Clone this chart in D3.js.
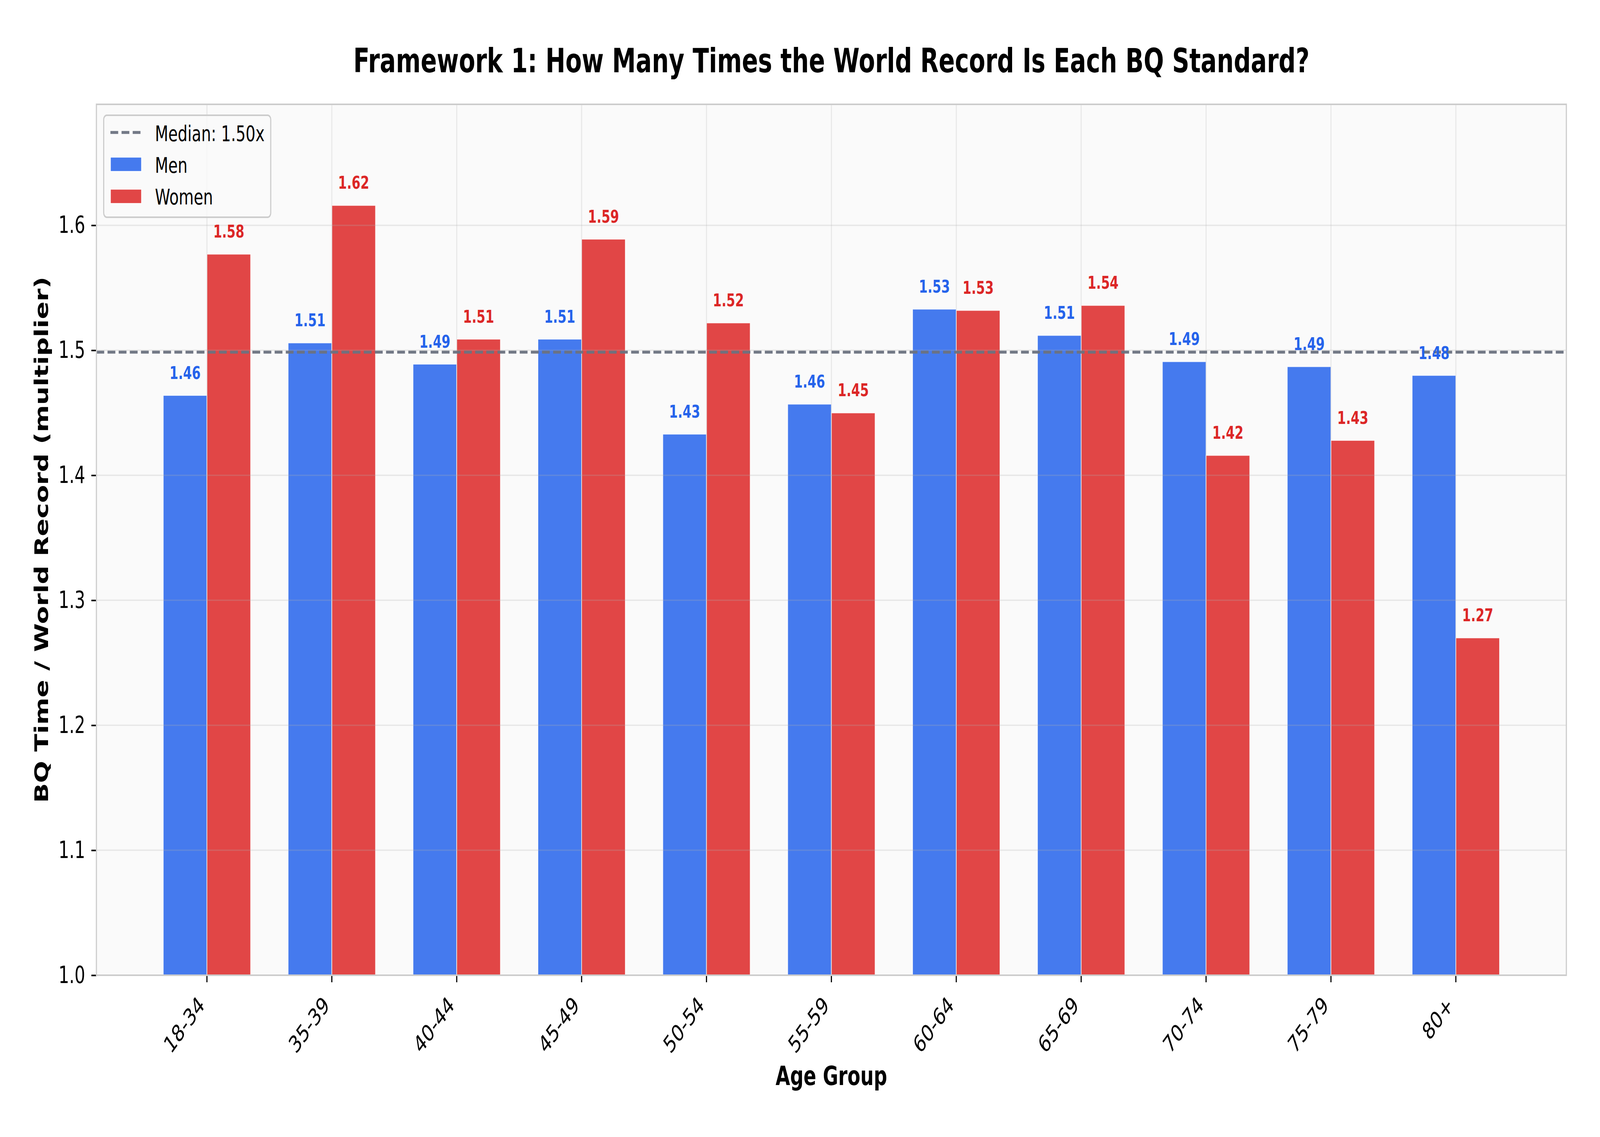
<!DOCTYPE html>
<html>
<head>
	<meta charset="utf-8">
	<title>BQ Standard vs World Record</title>
	<script type="text/javascript" src="https://d3js.org/d3.v7.min.js"></script>
	<style type="text/css">
		html, body { margin: 0; padding: 0; background: white; overflow: hidden; }
		svg { display: block; }
		svg text { font-family: "DejaVu Sans", sans-serif; }
		.axis text { font-size: 60px; fill: black; }
		.axis line { stroke: black; stroke-width: 4; }
	</style>
</head>
<body>
	<script type="text/javascript">
		var ageGroups = ["18-34", "35-39", "40-44", "45-49", "50-54", "55-59", "60-64", "65-69", "70-74", "75-79", "80+"];
		var menRatio = [1.464, 1.506, 1.489, 1.509, 1.433, 1.457, 1.533, 1.512, 1.491, 1.487, 1.480];
		var womenRatio = [1.577, 1.616, 1.509, 1.589, 1.522, 1.450, 1.532, 1.536, 1.416, 1.428, 1.270];
		var yTicks = [1.0, 1.1, 1.2, 1.3, 1.4, 1.5, 1.6];

		var menColor = "#2563eb";
		var womenColor = "#dc2626";

		var outer_width = 5709;
		var outer_height = 2910;
		var plot = {left: 344, right: 5589, top: 267, bottom: 2496};

		// the chart is laid out at 5709x2910 and stretched to the window
		var svg = d3.select("body")
					.append("svg")
					.attr("viewBox", "0 0 " + outer_width + " " + outer_height)
					.attr("preserveAspectRatio", "none")
					.attr("width", "100vw")
					.attr("height", "100vh");

		var xScale = d3.scaleBand()
						.domain(ageGroups)
						.range([plot.left, plot.right])
						.paddingInner(0)
						.paddingOuter(0.385);

		var barW = xScale.step() * 0.35;
		function center(g){ return xScale(g) + xScale.bandwidth() / 2; }

		var yScale = d3.scaleLinear()
						.domain([1.0, d3.max(womenRatio.concat(menRatio)) * 1.05])
						.range([plot.bottom, plot.top]);

		var median = d3.median(menRatio.concat(womenRatio));

		svg.append("rect")
			.attr("x", plot.left)
			.attr("y", plot.top)
			.attr("width", plot.right - plot.left)
			.attr("height", plot.bottom - plot.top)
			.style("fill", "#fafafa");

		var men = ageGroups.map(function(g, i){ return {group: g, value: menRatio[i]}; });
		var women = ageGroups.map(function(g, i){ return {group: g, value: womenRatio[i]}; });

		function drawBars(data, offset, color){
			svg.append("g").selectAll("rect")
				.data(data)
				.enter()
				.append("rect")
				.attr("x", function(d){ return center(d.group) + offset; })
				.attr("y", function(d){ return yScale(d.value); })
				.attr("width", barW)
				.attr("height", function(d){ return yScale(1.0) - yScale(d.value); })
				.style("fill", color)
				.style("fill-opacity", 0.85)
				.style("stroke", "white")
				.style("stroke-width", 2.5)
				.style("stroke-opacity", 0.85);
		}
		drawBars(men, -barW, menColor);
		drawBars(women, 0, womenColor);

		var grid = svg.append("g")
			.style("stroke", "#b0b0b0")
			.style("stroke-opacity", 0.25)
			.style("stroke-width", 3.5);
		grid.selectAll(".hg")
			.data(yTicks)
			.enter()
			.append("line")
			.attr("x1", plot.left)
			.attr("x2", plot.right)
			.attr("y1", function(d){ return yScale(d); })
			.attr("y2", function(d){ return yScale(d); });
		grid.selectAll(".vg")
			.data(ageGroups)
			.enter()
			.append("line")
			.attr("x1", function(d){ return center(d); })
			.attr("x2", function(d){ return center(d); })
			.attr("y1", plot.top)
			.attr("y2", plot.bottom);

		svg.append("line")
			.attr("x1", plot.left)
			.attr("x2", plot.right)
			.attr("y1", yScale(median))
			.attr("y2", yScale(median))
			.style("stroke", "#6b7280")
			.style("stroke-opacity", 0.95)
			.style("stroke-width", 7.5)
			.style("stroke-dasharray", "27.75,12");

		function drawLabels(data, offset, color){
			svg.append("g").selectAll("text")
				.data(data)
				.enter()
				.append("text")
				.attr("x", function(d){ return center(d.group) + offset; })
				.attr("y", function(d){ return yScale(d.value + 0.01) - 10; })
				.attr("text-anchor", "middle")
				.style("font-size", "45px")
				.style("font-weight", "bold")
				.style("fill", color)
				.text(function(d){ return d.value.toFixed(2); });
		}
		drawLabels(men, -barW / 2, menColor);
		drawLabels(women, barW / 2, womenColor);

		var yaxis = d3.axisLeft(yScale)
						.tickValues(yTicks)
						.tickFormat(d3.format(".1f"))
						.tickSize(18)
						.tickPadding(22);
		svg.append("g")
			.attr("class", "axis")
			.attr("transform", "translate(" + plot.left + ",0)")
			.call(yaxis)
			.call(function(g){ g.select(".domain").remove(); });

		var xaxis = d3.axisBottom(xScale)
						.tickSize(18);
		svg.append("g")
			.attr("class", "axis")
			.attr("transform", "translate(0," + plot.bottom + ")")
			.call(xaxis)
			.call(function(g){ g.select(".domain").remove(); })
			.selectAll("text")
			.attr("x", 0)
			.attr("y", 0)
			.attr("dy", null)
			.attr("text-anchor", "end")
			.attr("transform", "translate(-5,80) rotate(-45)");

		svg.append("rect")
			.attr("x", plot.left)
			.attr("y", plot.top)
			.attr("width", plot.right - plot.left)
			.attr("height", plot.bottom - plot.top)
			.style("fill", "none")
			.style("stroke", "#cccccc")
			.style("stroke-width", 4);

		svg.append("text")
			.attr("x", (plot.left + plot.right) / 2)
			.attr("y", 185)
			.attr("text-anchor", "middle")
			.style("font-size", "85px")
			.style("font-weight", "bold")
			.text("Framework 1: How Many Times the World Record Is Each BQ Standard?");

		svg.append("text")
			.attr("x", (plot.left + plot.right) / 2)
			.attr("y", 2777)
			.attr("text-anchor", "middle")
			.style("font-size", "67px")
			.style("font-weight", "bold")
			.text("Age Group");

		svg.append("text")
			.attr("transform", "translate(172," + (plot.top + plot.bottom) / 2 + ") rotate(-90)")
			.attr("text-anchor", "middle")
			.style("font-size", "67px")
			.style("font-weight", "bold")
			.text("BQ Time / World Record (multiplier)");

		var legend = svg.append("g").attr("transform", "translate(370,295)");
		legend.append("rect")
			.attr("width", 596)
			.attr("height", 261)
			.attr("rx", 11)
			.style("fill", "#fafafa")
			.style("fill-opacity", 0.8)
			.style("stroke", "#cccccc")
			.style("stroke-width", 4);
		legend.append("line")
			.attr("x1", 24).attr("x2", 135)
			.attr("y1", 44).attr("y2", 44)
			.style("stroke", "#6b7280")
			.style("stroke-opacity", 0.95)
			.style("stroke-width", 7.5)
			.style("stroke-dasharray", "27.75,12");
		var items = [
			{label: "Median: " + median.toFixed(2) + "x", color: null},
			{label: "Men", color: menColor},
			{label: "Women", color: womenColor}
		];
		legend.selectAll(".patch")
			.data(items.slice(1))
			.enter()
			.append("rect")
			.attr("x", 24)
			.attr("y", function(d, i){ return 107 + i * 82; })
			.attr("width", 111)
			.attr("height", 37)
			.style("fill", function(d){ return d.color; })
			.style("fill-opacity", 0.85)
			.style("stroke", "white")
			.style("stroke-width", 2.5);
		legend.selectAll(".lt")
			.data(items)
			.enter()
			.append("text")
			.attr("x", 183)
			.attr("y", function(d, i){ return 66 + i * 81; })
			.style("font-size", "55px")
			.text(function(d){ return d.label; });
	</script>
</body>
</html>
